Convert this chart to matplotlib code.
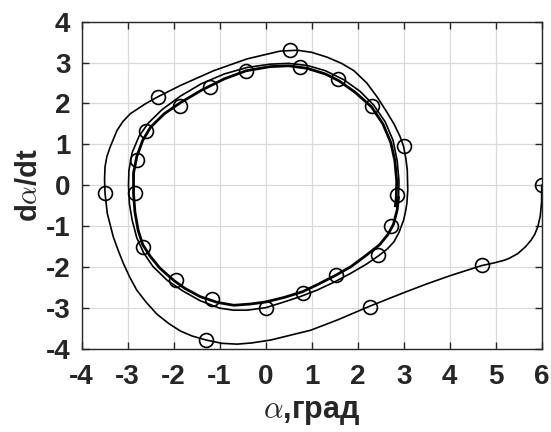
import matplotlib
matplotlib.use("Agg")
import matplotlib.pyplot as plt

plt.rcParams['font.family'] = ['Liberation Sans', 'DejaVu Sans']
plt.rcParams['mathtext.fontset'] = 'cm'
plt.rcParams['axes.unicode_minus'] = False

# phase trajectory
# first turn, from the start point (6, 0)
alpha_approach = [6.0, 6.0, 5.97, 5.92, 5.85, 5.77, 5.65, 5.48, 5.3, 5.19, 4.95, 4.7,
                  4.03, 3.5, 3.01, 2.27, 1.56, 0.98, 0.11, -0.3, -0.62, -0.95, -1.29,
                  -1.6, -1.85, -2.1, -2.36, -2.6, -2.8, -2.95, -3.09, -3.2, -3.31, -3.44,
                  -3.49, -3.5, -3.49, -3.45, -3.38, -3.23, -3.1, -2.94, -2.6, -2.33, -1.85,
                  -1.13, -0.4, 0.32, 0.69, 1.0, 1.34, 1.65, 1.92, 2.2, 2.43, 2.63, 2.79,
                  2.92, 3.0, 3.05, 3.08, 3.09,
                  # second turn
                  3.07, 3.04, 3.0, 2.9, 2.79, 2.65, 2.47, 2.2, 1.85, 1.5, 1.12, 0.75, 0.4,
                  0.0, -0.4, -0.7, -1.0, -1.42, -1.8, -2.14, -2.45, -2.65, -2.8, -2.9,
                  -2.96, -2.98, -2.97, -2.9, -2.75, -2.55, -2.25, -1.85, -1.4, -0.9, -0.4,
                  0.1, 0.5, 0.9, 1.3, 1.7, 2.05, 2.35, 2.6, 2.77, 2.86, 2.9, 2.89]
dalpha_approach = [0.0, -0.4, -0.75, -1.0, -1.2, -1.34, -1.5, -1.67, -1.78, -1.83, -1.9, -1.96,
                   -2.2, -2.41, -2.62, -2.95, -3.29, -3.54, -3.78, -3.85, -3.88, -3.86, -3.78,
                   -3.68, -3.56, -3.38, -3.15, -2.85, -2.56, -2.25, -1.91, -1.6, -1.26, -0.69,
                   -0.19, 0.15, 0.45, 0.7, 0.93, 1.34, 1.56, 1.75, 2.0, 2.17, 2.44,
                   2.8, 3.09, 3.28, 3.3, 3.25, 3.13, 2.98, 2.8, 2.5, 2.15, 1.8, 1.5,
                   1.2, 0.95, 0.65, 0.37, -0.12,
                   -0.45, -0.65, -0.85, -1.15, -1.38, -1.55, -1.71, -1.92, -2.15, -2.36, -2.56, -2.72, -2.85,
                   -2.99, -3.05, -3.05, -3.0, -2.82, -2.58, -2.32, -1.98, -1.65, -1.28, -0.85,
                   -0.45, 0.0, 0.37, 0.8, 1.2, 1.52, 1.85, 2.18, 2.48, 2.72, 2.88,
                   2.96, 2.98, 2.93, 2.8, 2.58, 2.3, 1.96, 1.55, 1.1, 0.6, 0.1, -0.3]

# last turn (limit cycle)
alpha_cycle = [2.89, 2.86, 2.78, 2.66, 2.48, 2.14, 1.85, 1.52, 1.12, 0.8, 0.4, 0.0, -0.33,
               -0.69, -1.05, -1.42, -1.75, -2.0, -2.3, -2.51, -2.67, -2.77, -2.84, -2.87,
               -2.87, -2.8, -2.67, -2.5, -2.2, -1.85, -1.4, -0.9, -0.42, 0.1, 0.5, 0.9,
               1.3, 1.6, 1.95, 2.3, 2.55, 2.72, 2.81, 2.85, 2.84, 2.82]
dalpha_cycle = [-0.3, -0.6, -0.95, -1.2, -1.45, -1.75, -1.99, -2.2, -2.43, -2.6, -2.74, -2.85, -2.9,
                -2.93, -2.86, -2.72, -2.52, -2.32, -2.02, -1.73, -1.45, -1.1, -0.65, -0.2,
                0.3, 0.7, 1.1, 1.42, 1.75, 2.02, 2.32, 2.6, 2.8, 2.9, 2.92, 2.86,
                2.72, 2.55, 2.27, 1.92, 1.5, 1.05, 0.6, 0.1, -0.3, -0.5]

# circle markers along the trajectory
alpha_marks = [6.0, 4.7, 2.27, -1.29, -3.49, -2.33, 0.52, 3.0,
               2.45, 0.0, -2.83, -2.80, -2.59, -1.85, -1.20, -0.42, 0.75, 1.57, 2.32,
               2.86, 2.72, 1.53, 0.81, -1.16, -1.95, -2.67]
dalpha_marks = [0.0, -1.94, -2.97, -3.77, -0.18, 2.16, 3.31, 0.95,
                -1.71, -3.0, -0.18, 0.63, 1.32, 1.95, 2.41, 2.80, 2.89, 2.59, 1.93,
                -0.24, -1.0, -2.2, -2.64, -2.78, -2.32, -1.5]

xticks = [-4, -3, -2, -1, 0, 1, 2, 3, 4, 5, 6]
yticks = [-4, -3, -2, -1, 0, 1, 2, 3, 4]

fig = plt.figure(figsize=(5.51, 4.32), dpi=100)
ax = fig.add_axes([0.148, 0.192, 0.835, 0.758])

ax.plot(alpha_approach, dalpha_approach, color='k', lw=1.2)
ax.plot(alpha_cycle, dalpha_cycle, color='k', lw=2.0)
ax.plot(alpha_marks, dalpha_marks, 'o', ms=10, mfc='none', mec='k', mew=1.2)

ax.set_xlim(-4, 6)
ax.set_ylim(-4, 4)
ax.set_xticks(xticks)
ax.set_yticks(yticks)
ax.grid(True, color='#d9d9d9', lw=0.9)
ax.set_axisbelow(True)
ax.tick_params(direction='in', length=5, width=1, top=True, right=True,
               labelsize=20, colors='#262626')
ax.tick_params(axis='x', pad=11)
ax.tick_params(axis='y', pad=8)
for lab in ax.get_xticklabels() + ax.get_yticklabels():
    lab.set_fontweight('bold')
for sp in ax.spines.values():
    sp.set_color('#262626')
    sp.set_linewidth(1.0)

ax.set_xlabel(r'$\alpha$,град', fontsize=22, fontweight='bold', color='#262626', labelpad=5)
ax.set_ylabel(r'd$\alpha$/dt', fontsize=21, fontweight='bold', color='#262626', labelpad=2)

fig.savefig('out.png', dpi=100)
